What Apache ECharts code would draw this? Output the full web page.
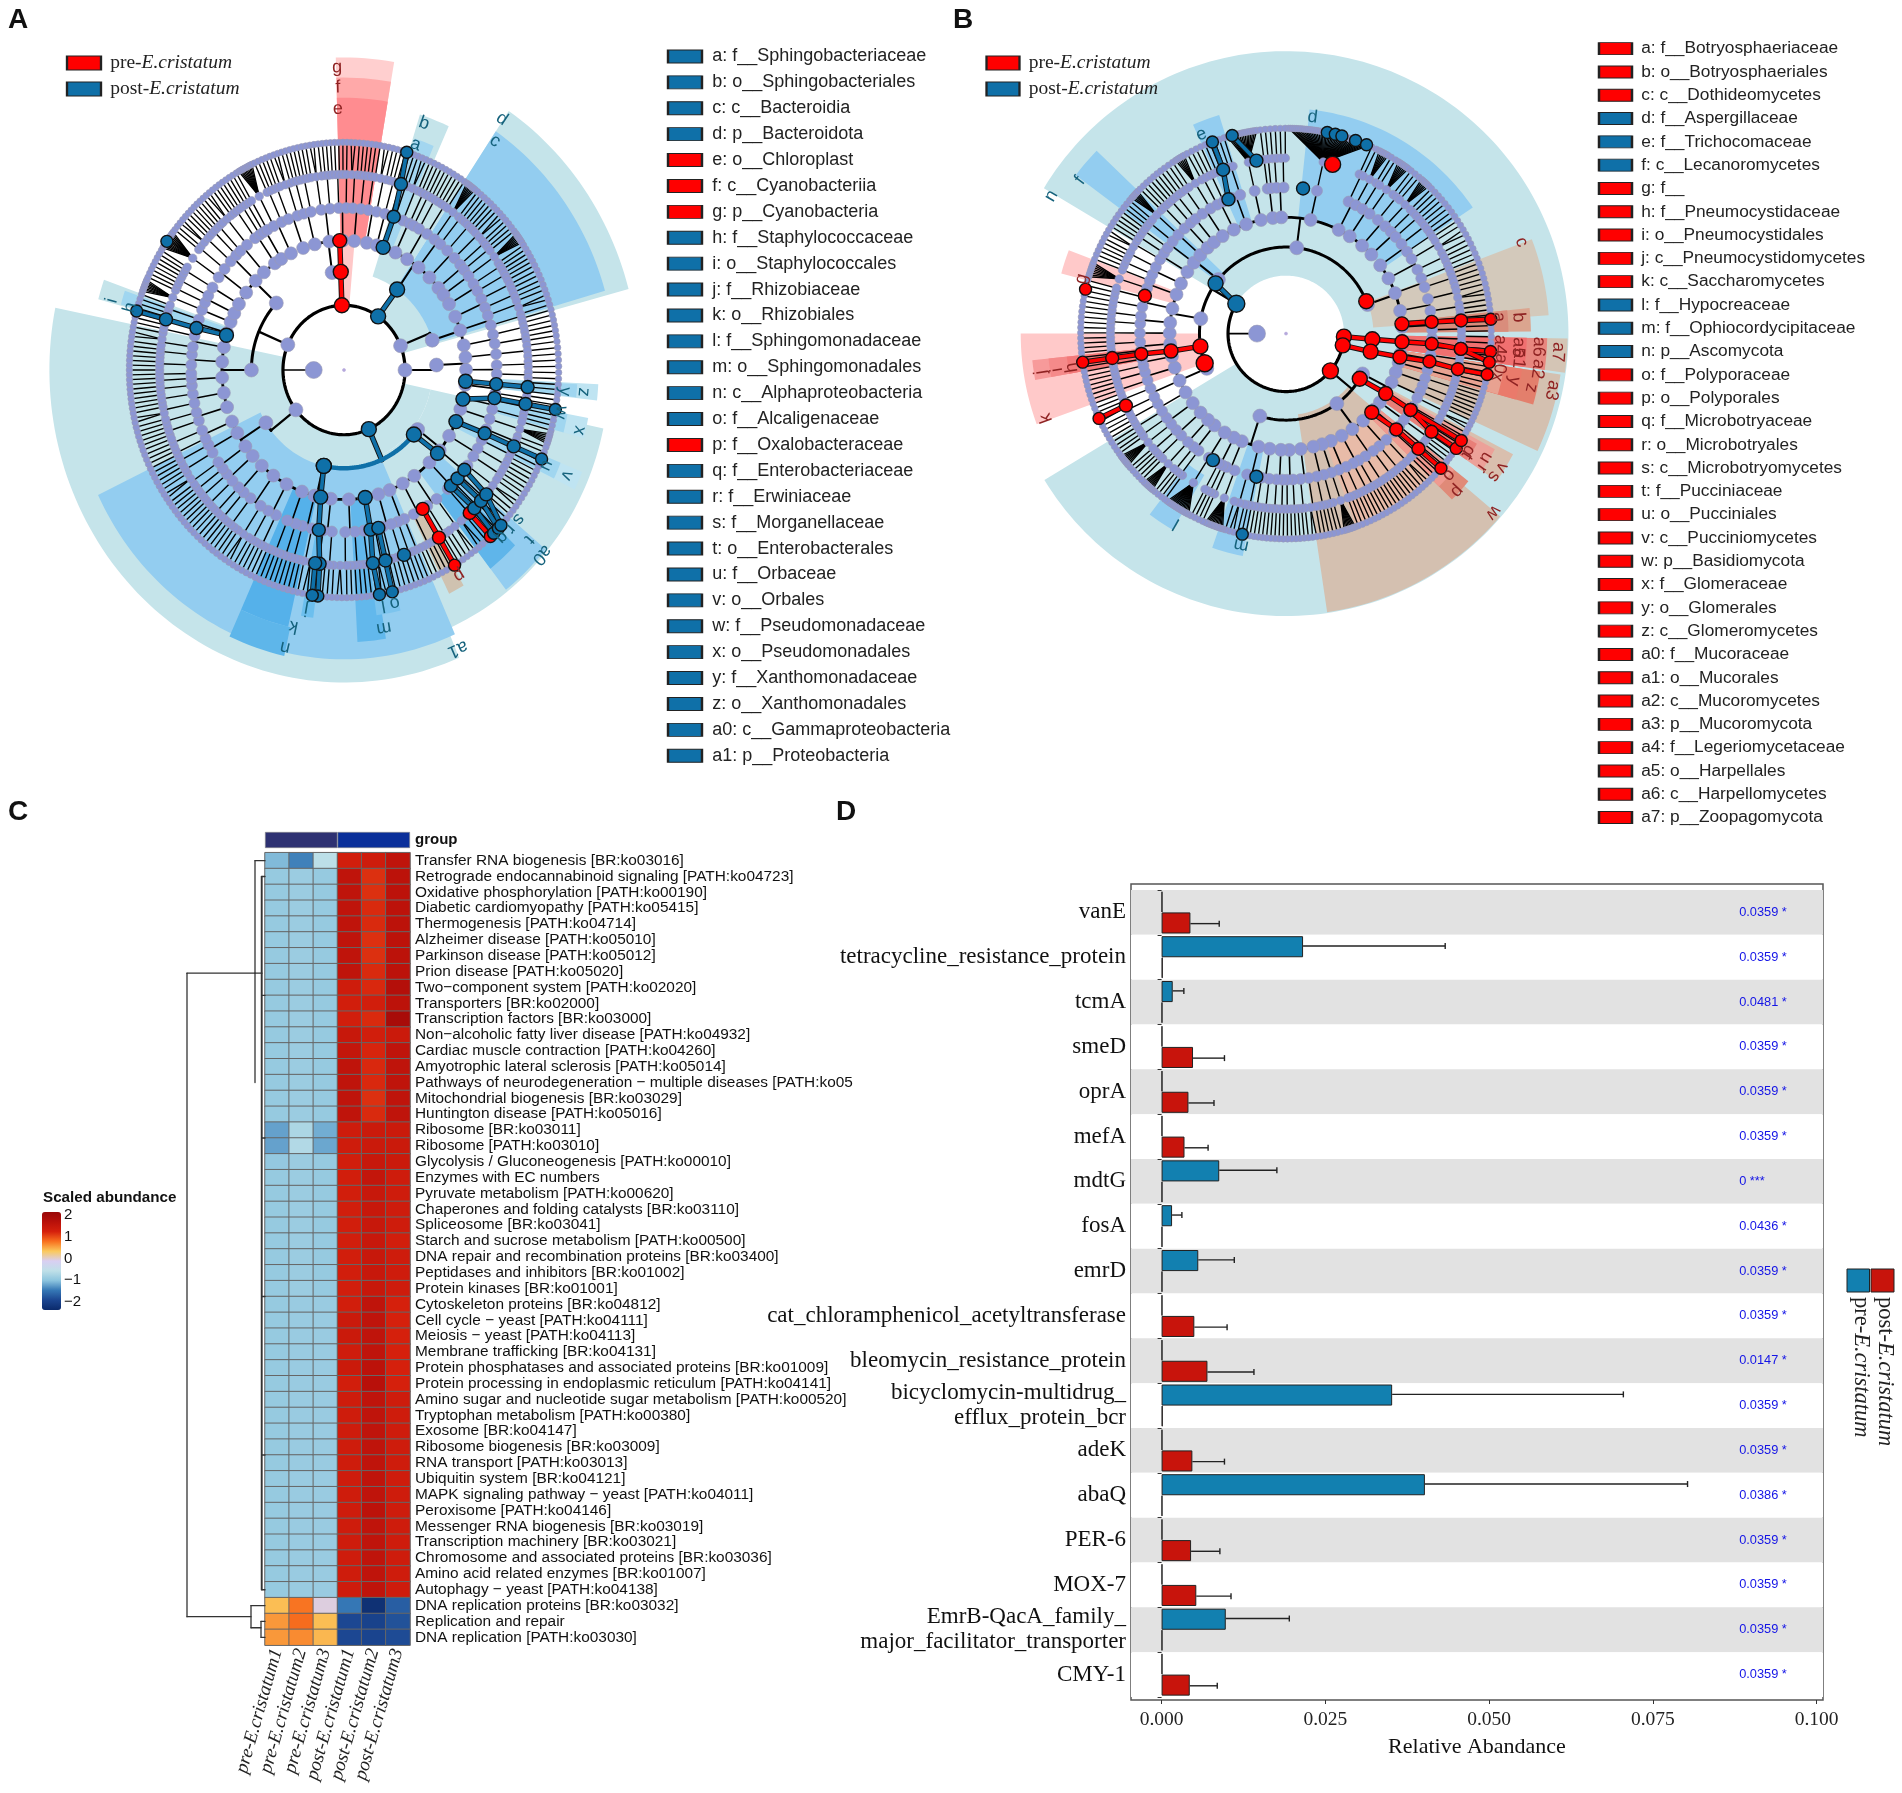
<!DOCTYPE html>
<html><head><meta charset="utf-8">
<style>html,body{margin:0;padding:0;background:#fff}#c{width:1902px;height:1793px}</style>
<script src="https://cdn.jsdelivr.net/npm/echarts@6/dist/echarts.min.js"></script>
</head><body><div id="c"></div>
<script>
// ---------- DATA ----------
const legendTermsA=["a: f__Sphingobacteriaceae","b: o__Sphingobacteriales","c: c__Bacteroidia","d: p__Bacteroidota","e: o__Chloroplast","f: c__Cyanobacteriia","g: p__Cyanobacteria","h: f__Staphylococcaceae","i: o__Staphylococcales","j: f__Rhizobiaceae","k: o__Rhizobiales","l: f__Sphingomonadaceae","m: o__Sphingomonadales","n: c__Alphaproteobacteria","o: f__Alcaligenaceae","p: f__Oxalobacteraceae","q: f__Enterobacteriaceae","r: f__Erwiniaceae","s: f__Morganellaceae","t: o__Enterobacterales","u: f__Orbaceae","v: o__Orbales","w: f__Pseudomonadaceae","x: o__Pseudomonadales","y: f__Xanthomonadaceae","z: o__Xanthomonadales","a0: c__Gammaproteobacteria","a1: p__Proteobacteria"];
const legendGroupA=[1,1,1,1,0,0,0,1,1,1,1,1,1,1,1,0,1,1,1,1,1,1,1,1,1,1,1,1];
const legendTermsB=["a: f__Botryosphaeriaceae","b: o__Botryosphaeriales","c: c__Dothideomycetes","d: f__Aspergillaceae","e: f__Trichocomaceae","f: c__Lecanoromycetes","g: f__","h: f__Pneumocystidaceae","i: o__Pneumocystidales","j: c__Pneumocystidomycetes","k: c__Saccharomycetes","l: f__Hypocreaceae","m: f__Ophiocordycipitaceae","n: p__Ascomycota","o: f__Polyporaceae","p: o__Polyporales","q: f__Microbotryaceae","r: o__Microbotryales","s: c__Microbotryomycetes","t: f__Pucciniaceae","u: o__Pucciniales","v: c__Pucciniomycetes","w: p__Basidiomycota","x: f__Glomeraceae","y: o__Glomerales","z: c__Glomeromycetes","a0: f__Mucoraceae","a1: o__Mucorales","a2: c__Mucoromycetes","a3: p__Mucoromycota","a4: f__Legeriomycetaceae","a5: o__Harpellales","a6: c__Harpellomycetes","a7: p__Zoopagomycota"];
const legendGroupB=[0,0,0,1,1,1,0,0,0,0,0,1,1,1,0,0,0,0,0,0,0,0,0,0,0,0,0,0,0,0,0,0,0,0];
const groupNames=["pre-","post-"];

const ringsA=[145,220,290,363,438,510];
const ringsB=[142,212,285,358,430,503];
const PALE='#c5e4ea',MID='#93cdf0',DEEP='#55b1ea';
// [fromAngle,toAngle,innerRadius,outerRadius,colour]
const sectorsA=[
 [157,281.5,145,700,PALE],[102,157,145,210,PALE],[102,157,210,630,PALE],[34,75,145,700,PALE],[18,34,220,505,PALE],
 [34,74,220,645,MID],[156,244.4,220,648,MID],
 [17.5,24.5,290,600,PALE],[18,23,290,545,'#a3d6f0'],
 [-1.6,9.8,290,700,'#ffcfcf'],[-1.6,9.8,290,655,'#ffa9a9'],[-1.6,9.8,290,610,'#ff8c90'],[-1,5,150,290,'#ffc8c8'],
 [192.5,204.5,590,656,'#5eb6ea'],[193,204.5,290,590,DEEP],[187.5,190.5,365,560,'#6cbfee'],
 [170.6,177,290,610,'#62b8ec'],[166,172,365,555,'#7cc4ee'],
 [130,142,290,625,MID],[134,142,363,565,'#5fb5ea'],[149.5,153.5,360,560,'#cfc2b0'],
 [93,96.5,360,605,'#bfe4f2'],[93.3,96.3,360,555,'#a0d6f0'],[100.5,105,360,590,'#bfe4f2'],[100.5,105,360,540,'#a0d6f0'],
 [112,116,290,610,'#bfe4f2'],[112,116,290,555,'#a0d6f0'],[285.2,289.5,290,605,PALE],[285.5,288.8,290,550,'#a0d6f0']
];
const sectorsB=[
 [301,598.8,142,692,PALE],[130.5,171.6,200,690,'#d4c0b0'],[98.5,115,285,680,'#d4c0b0'],[91,98,285,690,'#d4c5b5'],[69,86,214,645,'#d3c9bb'],
 [84,89.5,285,600,'#dba58f'],[84,89.5,285,545,'#d98d7c'],[91,98,285,640,'#e8877f'],[91,98,285,590,'#f07070'],
 [98.5,106,285,630,'#e37f6c'],[98.5,106,285,585,'#ea7a6b'],[98.5,106,285,540,'#e8a291'],
 [118,125,285,630,'#d9bfae'],[119,125,285,585,'#eca199'],[120,125,285,540,'#e87f78'],
 [129,135,285,575,'#e08a78'],[129,135,285,530,'#ef9a90'],[135,160,285,500,'#e8bba8'],
 [6,56,285,552,MID],[336,343,285,560,MID],[307,314,214,645,MID],
 [285,291,285,570,'#ffc9c9'],[250,270,214,650,'#ffc9c9'],[259.5,264,360,625,'#f79a9a'],[259.5,264,360,585,'#f58a8a'],[259.5,264,360,540,'#f47a7a'],
 [210,217,400,555,MID],[191,199,285,555,MID]
];
// Taxonomy: phylum {a:ring angle, classes:[[from,to,[order[family[species per genus]]]]]}
const phylaA=[
 {a:293,classes:[
  [250,290,[[[1,1,1],[1,1]],[[2,1],[1,1,1]],[[1,1],[1,1],[1]],[[1,1,1,1],[1,1]],[[1,2],[1,1,1]],[[1,1],[1,1,1]]]],
  [290,337,[[[8]],[[1,1],[1,1,1]],[[1,1,1]],[[12],[1,1]],[[2,1,1],[1,1]],[[1,1],[1,2,1]],[[1,1,1],[1]],[[1,1],[1]],[[10],[1,1]]]]]},
 {a:358,classes:[[337,368,[[[1,1,1],[2,1]],[[1,1],[1,1,1]],[[1,2,1],[1,1]],[[1,1,1,1],[1]],[[2,1],[1,1,1]]]]]},
 {a:34,classes:[[8,62,[[[1,1],[2,1]],[[1,1,1]],[[1],[1,1]],[[2,1],[1,1],[1]],[[1,1,1],[1,1,1]],[[7],[1,1]],[[1,1,1,1],[1,2]],[[1,1],[1,1]],[[7]],[[1,1,1],[1,1]]]]]},
 {a:68,classes:[[62,82,[[[1,1,1],[1,1]],[[1,2],[1,1]],[[1,1,1],[1,1]]]]]},
 {a:90,classes:[[82,93,[[[1,1,1]],[[1,1],[1,1]]]]]},
 {a:156,classes:[
  [93,160,[[[1,1,1],[1,1]],[[1,1],[1,1,1]],[[6]],[[1,1,2],[1,1]],[[1,1,1],[1,1]],[[1,2,1],[1,1,1]],[[1,1],[1,1,1]],[[2,2,1],[1,1]],[[1,1],[1,1,1]],[[1,1,1],[1]]]],
  [160,225,[[[1,1,1],[1,1]],[[1,2],[1,1,1]],[[1,1],[1,1,2]],[[1,1,1],[1,1]],[[2,1,1],[1,1]],[[1,1],[1,1,1]],[[1,1,1,1],[1]],[[1,2,1],[1,1,1]],[[1,1],[1,1]]]]]},
 {a:232,classes:[[225,250,[[[1,1,1],[1,1]],[[1,1],[1,2]],[[1,1,1],[1,1]],[[1,1],[1,1,1]]]]]}
];
const phylaB=[
 {a:93,classes:[[90,97,[[[1,1],[1,1]]]]]},
 {a:101.7,classes:[[97,106,[[[1,1],[1,1]],[[1,1]]]]]},
 {a:130,classes:[
  [106,128,[[[1,1,1],[1,1]],[[1,1],[1,2]],[[1,1,1],[1,1]],[[1,1,1]]]],
  [128,160,[[[1,1],[1,1,1]],[[1,2,1],[1,1]],[[1,1,1],[1,1,1]],[[1,1],[1,1]],[[1,1,1],[1,1]]]],
  [160,236,[[[8]],[[1,1],[1,1,1]],[[1,2],[1,1]],[[1,1,1],[1]],[[1,1],[1,1]],[[1,1,1],[1,1]],[[1,1],[1,2,1]],[[12],[1]],[[1,1],[1]],[[16]],[[1,1],[1,1]],[[8]],[[1,1,1],[1,1]],[[8],[1,1]]]]]},
 {a:301,classes:[
  [236,256,[[[1,1,1],[1,1]],[[1,2],[1,1]],[[1,1,1],[1,1]]]],
  [256,268,[[[1,1],[1,1]],[[1,1,1],[1,1]]]],
  [268,292,[[[1,1,1]],[[1,1],[1,1]],[[1,1,1],[1,1]],[[8],[1]]]],
  [292,323,[[[1,1,1],[1,1]],[[2,1],[1,1]],[[1,1],[1,1,1]],[[6]],[[1,1,1],[1,1]],[[1,1]]]],
  [323,410,[[[1,1,1],[6]],[[1,1],[1,1]],[[1,1,1],[1,1]],[[16]],[[1],[1]],[[1,1],[1,1]],[[42]],[[1,1],[6]],[[1,1],[7]],[[1,1,1],[6]],[[1,1],[1,1]]]],
  [410,450,[[[1,1,1],[1,1]],[[1,2],[1,1,1]],[[1,1],[1,1,1]],[[1,1,2],[1,1]],[[1,1,1],[1,1]]]]]}
];
// chains of differential taxa: [ringIndex,angle,(size)]
const chainsA=[
 ['r',[[0,358],[1,358],[2,358]]],['r',[[3,149],[4,149],[5,149]]],['r',[[4,137],[5,137]]],
 ['b',[[3,135.6],[4,135],[5,135.8]]],['b',[[3,132],[4,132],[5,134]]],['b',[[3,128],[4,129.5],[5,133]]],
 ['b',[[0,34],[1,35]]],['b',[[2,18.7],[3,19],[4,18],[5,17]]],['b',[[2,95],[3,95],[4,95]]],
 ['b',[[2,103],[3,100],[4,100],[5,100]]],['b',[[2,113.5],[3,113],[4,113],[5,113]]],
 ['b',[[0,156],[1,156,0]]],['b',[[1,192.6],[1,156,0],[1,131],[2,130]]],
 ['b',[[1,192.6],[2,191],[3,189.5],[4,187.6],[5,187]]],['b',[[4,189],[5,188.5]]],
 ['b',[[2,170],[3,170],[4,171],[5,170.5]]],['b',[[3,167],[4,167],[5,167]]],['b',[[4,161]]],
 ['b',[[2,285.6],[3,285],[4,285],[5,285]]],['b',[[5,304.4]]]
];
const chainsB=[
 ['r',[[1,68]]],['r',[[2,85.2],[3,85.4],[4,85.7],[5,86]]],
 ['r',[[0,93],[1,93.7],[2,94],[3,94],[4,95],[5,95]]],['r',[[4,95],[5,98]]],
 ['r',[[0,101.7],[1,102],[2,101.6],[3,101],[4,101.7],[5,101.5]]],
 ['r',[[0,130,16]]],['r',[[1,121.5],[2,121],[3,121.5],[4,124],[5,124]]],['r',[[3,121.5],[5,121.4]]],
 ['r',[[2,132.5],[3,131],[4,131],[5,131]]],
 ['r',[[1,261.5],[2,261.4],[3,262],[4,262],[5,262]]],['r',[[1,250,17]]],['r',[[4,245.8],[5,245.6]]],
 ['r',[[3,285]]],['r',[[5,282.5]]],['r',[[4,15.4,16]]],
 ['b',[[0,301,17],[1,305.5]]],['b',[[3,6.7]]],['b',[[3,336.8],[4,339],[5,339]]],['b',[[4,350.3],[5,344.8]]],
 ['b',[[5,11.6]]],['b',[[5,13.9]]],['b',[[5,15.8]]],['b',[[5,19.8]]],['b',[[5,23.1]]],
 ['b',[[3,210]]],['b',[[3,191.7]]],['b',[[5,192.3]]]
];
// [text,radius,angle,group]
const lettersA=[["a",533,18.6,1],["b",584,19,1],["c",626,35,1],["d",676,33.7,1],["e",585,358.6,0],["f",633,358.7,0],["g",678,358.6,0],["h",527,285.4,1],["i",573,285.7,1],["j",543,189.5,1],["k",587,191.8,1],["l",535,170,1],["m",586,170.7,1],["n",637,192.7,1],["o",536,167,1],["p",535,149.3,0],["q",530,135,1],["r",532,132,1],["s",533,128.9,1],["t",581,130.8,1],["u",527,114,1],["v",580,114,1],["w",524,100.4,1],["x",576,103.6,1],["y",527,95.2,1],["z",572,95,1],["a0",627,131.4,1],["a1",681,156.6,1]];
const lettersB=[["a",523,85.6,0],["b",571,86,0],["c",619,68.8,0],["d",534,7,1],["e",530,337,1],["f",629,306.6,1],["g",519,285,0],["h",531,261,0],["i",568,261,0],["j",608,261,0],["k",623,250.6,0],["l",538,210,1],["m",530,192,1],["n",667,300.4,1],["o",529,131,0],["p",570,132.7,0],["q",531,122.7,0],["r",582,124.6,0],["s",618,124.5,0],["t",534,124,0],["u",577,121.8,0],["v",622,121.8,0],["w",671,130.8,0],["x",528,101.6,0],["y",571,101.8,0],["z",616,102.5,0],["a0",530,98,0],["a1",574,96.1,0],["a2",623,98,0],["a3",667,102,0],["a4",525,93,0],["a5",570,93.4,0],["a6",620,93,0],["a7",668,93.9,0]];

const heatRows=["Transfer RNA biogenesis [BR:ko03016]","Retrograde endocannabinoid signaling [PATH:ko04723]","Oxidative phosphorylation [PATH:ko00190]","Diabetic cardiomyopathy [PATH:ko05415]","Thermogenesis [PATH:ko04714]","Alzheimer disease [PATH:ko05010]","Parkinson disease [PATH:ko05012]","Prion disease [PATH:ko05020]","Two−component system [PATH:ko02020]","Transporters [BR:ko02000]","Transcription factors [BR:ko03000]","Non−alcoholic fatty liver disease [PATH:ko04932]","Cardiac muscle contraction [PATH:ko04260]","Amyotrophic lateral sclerosis [PATH:ko05014]","Pathways of neurodegeneration − multiple diseases [PATH:ko05","Mitochondrial biogenesis [BR:ko03029]","Huntington disease [PATH:ko05016]","Ribosome [BR:ko03011]","Ribosome [PATH:ko03010]","Glycolysis / Gluconeogenesis [PATH:ko00010]","Enzymes with EC numbers","Pyruvate metabolism [PATH:ko00620]","Chaperones and folding catalysts [BR:ko03110]","Spliceosome [BR:ko03041]","Starch and sucrose metabolism [PATH:ko00500]","DNA repair and recombination proteins [BR:ko03400]","Peptidases and inhibitors [BR:ko01002]","Protein kinases [BR:ko01001]","Cytoskeleton proteins [BR:ko04812]","Cell cycle − yeast [PATH:ko04111]","Meiosis − yeast [PATH:ko04113]","Membrane trafficking [BR:ko04131]","Protein phosphatases and associated proteins [BR:ko01009]","Protein processing in endoplasmic reticulum [PATH:ko04141]","Amino sugar and nucleotide sugar metabolism [PATH:ko00520]","Tryptophan metabolism [PATH:ko00380]","Exosome [BR:ko04147]","Ribosome biogenesis [BR:ko03009]","RNA transport [PATH:ko03013]","Ubiquitin system [BR:ko04121]","MAPK signaling pathway − yeast [PATH:ko04011]","Peroxisome [PATH:ko04146]","Messenger RNA biogenesis [BR:ko03019]","Transcription machinery [BR:ko03021]","Chromosome and associated proteins [BR:ko03036]","Amino acid related enzymes [BR:ko01007]","Autophagy − yeast [PATH:ko04138]","DNA replication proteins [BR:ko03032]","Replication and repair","DNA replication [PATH:ko03030]"];
const heatCols=["pre-E.cristatum1","pre-E.cristatum2","pre-E.cristatum3","post-E.cristatum1","post-E.cristatum2","post-E.cristatum3"];
const pre1=[-.85,-.72,-.72,-.72,-.72,-.72,-.72,-.72,-.72,-.72,-.72,-.72,-.72,-.72,-.72,-.72,-.72,-.98,-.98,-.74,-.72,-.72,-.72,-.72,-.72,-.72,-.72,-.72,-.72,-.72,-.72,-.72,-.72,-.72,-.72,-.72,-.72,-.72,-.72,-.72,-.72,-.72,-.72,-.72,-.72,-.72,-.72,.45,.62,.62];
const pre2=[-1.15,-.68,-.68,-.68,-.68,-.68,-.68,-.68,-.68,-.68,-.68,-.68,-.68,-.68,-.68,-.68,-.68,-.55,-.5,-.68,-.68,-.68,-.68,-.68,-.68,-.68,-.68,-.68,-.7,-.7,-.7,-.7,-.7,-.7,-.7,-.7,-.7,-.7,-.7,-.7,-.7,-.7,-.7,-.7,-.7,-.7,-.7,.78,.82,.68];
const pre3=[-.42,-.72,-.72,-.72,-.72,-.72,-.72,-.72,-.72,-.72,-.72,-.72,-.72,-.72,-.72,-.72,-.72,-.92,-.95,-.72,-.72,-.72,-.72,-.72,-.72,-.72,-.72,-.72,-.7,-.7,-.7,-.7,-.7,-.7,-.7,-.7,-.7,-.7,-.7,-.7,-.7,-.7,-.7,-.7,-.7,-.7,-.7,.05,.45,.48];
const post1=[1.25,1.5,1.5,1.5,1.5,1.5,1.5,1.5,1.3,1.25,1.25,1.4,1.45,1.5,1.5,1.5,1.5,1.3,1.3,1.25,1.25,1.25,1.25,1.25,1.25,1.25,1.25,1.25,1.25,1.35,1.35,1.3,1.35,1.25,1.3,1.3,1.3,1.3,1.3,1.3,1.3,1.3,1.3,1.3,1.3,1.3,1.3,-1.2,-1.58,-1.58];
const post2=[1.3,1.12,1.12,1.15,1.15,1.12,1.12,1.15,1.16,1.25,1.15,1.25,1.18,1.16,1.16,1.12,1.15,1.35,1.35,1.4,1.45,1.4,1.4,1.4,1.4,1.4,1.4,1.4,1.5,1.5,1.5,1.5,1.55,1.6,1.5,1.5,1.5,1.5,1.5,1.5,1.5,1.55,1.5,1.5,1.5,1.5,1.5,-1.9,-1.65,-1.62];
const post3=[1.5,1.55,1.55,1.55,1.55,1.55,1.55,1.55,1.65,1.55,1.8,1.35,1.5,1.5,1.5,1.5,1.5,1.35,1.35,1.35,1.3,1.3,1.3,1.3,1.25,1.3,1.3,1.3,1.2,1.2,1.2,1.2,1.2,1.2,1.3,1.3,1.3,1.3,1.3,1.3,1.3,1.3,1.3,1.3,1.3,1.3,1.3,-1.4,-1.5,-1.55];
// dendrogram segments [height0,row0,height1,row1]
const dendroSegments=[[78,7.6,78,48.2],[78,7.6,10,7.6],[78,48.2,14,48.2],[10,.5,10,14.5],[10,.5,0,.5],[10,7.6,3,7.6],[3,1.5,3,46.5],[3.6,1.5,3.6,46.5],[3,1.5,0,1.5],[3,46.5,0,46.5],[3,9,0,9],[3,18,0,18],[3,28,0,28],[3,38,0,38],[14,47.5,14,48.9],[14,47.5,0,47.5],[14,48.9,4,48.9],[4,48.5,4,49.5],[4,48.5,0,48.5],[4,49.5,0,49.5]];

const genes=["vanE","tetracycline_resistance_protein","tcmA","smeD","oprA","mefA","mdtG","fosA","emrD","cat_chloramphenicol_acetyltransferase","bleomycin_resistance_protein","bicyclomycin-multidrug_\nefflux_protein_bcr","adeK","abaQ","PER-6","MOX-7","EmrB-QacA_family_\nmajor_facilitator_transporter","CMY-1"];
const postMean=[.00012,.0216,.0017,.00012,.00012,.00012,.0088,.0016,.0056,.00012,.00012,.0352,.00012,.0402,.00012,.00012,.0098,.00012];
const postErr =[0,.0433,.0034,0,0,0,.0176,.0031,.0111,0,0,.0705,0,.0803,0,0,.0195,0];
const preMean =[.0044,.00018,.00012,.0048,.0041,.0035,.00012,.00012,.00012,.005,.007,.00018,.0047,.00012,.0045,.0053,.00012,.0043];
const preErr  =[.0088,0,0,.0096,.008,.0071,0,0,0,.01,.0141,0,.0096,0,.0089,.0106,0,.0085];
const pValues=["0.0359 *","0.0359 *","0.0481 *","0.0359 *","0.0359 *","0.0359 *","0 ***","0.0436 *","0.0359 *","0.0359 *","0.0147 *","0.0359 *","0.0359 *","0.0386 *","0.0359 *","0.0359 *","0.0359 *","0.0359 *"];
const xTicks=[0,.025,.05,.075,.1];

// ---------- BUILD ----------
const grid=[],xAxis=[],yAxis=[],series=[];
const SANS='"Liberation Sans",Arial,sans-serif',SERIF='"Liberation Serif",serif';
function addGrid(g,x,y){grid.push(Object.assign({containLabel:false},g));const i=grid.length-1;
 xAxis.push(Object.assign({gridIndex:i},x));yAxis.push(Object.assign({gridIndex:i},y));return i;}
const hidden=(a,b)=>({type:'value',show:false,min:a,max:b});
const pt=(r,a)=>{const t=a*Math.PI/180;return [r*Math.sin(t),r*Math.cos(t)];};
function arcPts(r,a0,a1){const p=[];const n=Math.max(1,Math.ceil(Math.abs(a1-a0)/1.5));for(let i=0;i<=n;i++)p.push(pt(r,a0+(a1-a0)*i/n));return p;}
const NODE='#8c96d4',REDC='#ff0000',BLUEC='#0f70a8';
const sizes=[14,14,13,11,8.5,6.5],bioSizes=[15,15,14,13,13,12];
const arcW=[3.2,3,2.8,2.2,1.4,1.2];

function layout(phyla,R,rootAngleR,wholeCircle){
 const edges=[],nodes=[];
 const N=(ring,a)=>nodes.push({v:pt(R[ring],a),s:sizes[ring]});
 const addArc=(ring,a,b)=>{if(b>a)edges.push({p:arcPts(R[ring],a,b),w:arcW[ring]});};
 const addSpoke=(r0,r1,a,w)=>edges.push({p:[pt(r0,a),pt(r1,a)],w});
 phyla.forEach(ph=>{
  const clsA=[];
  ph.classes.forEach(c=>{
   const w=g=>g>=6?g*.4:g;let tot=0;
   c[2].forEach(o=>o.forEach(f=>f.forEach(g=>tot+=w(g))));
   const unit=(c[1]-c[0])/tot;let cur=c[0];const ordA=[];
   c[2].forEach(o=>{const famA=[];
    o.forEach(f=>{const genA=[];
     f.forEach(g=>{const spA=[],step=unit*w(g)/g;
      for(let i=0;i<g;i++)spA.push(cur+step*(i+.5));cur+=unit*w(g);
      const ga=(spA[0]+spA[g-1])/2;genA.push(ga);N(4,ga);
      spA.forEach(sa=>{edges.push({p:[pt(R[4],ga),pt(R[5],sa)],w:1.35});N(5,sa);});
     });
     const fa=(genA[0]+genA[genA.length-1])/2;famA.push(fa);N(3,fa);
     addArc(4,genA[0],genA[genA.length-1]);addSpoke(R[3],R[4],fa,1.4);
    });
    const oa=(famA[0]+famA[famA.length-1])/2;ordA.push(oa);N(2,oa);
    addArc(3,famA[0],famA[famA.length-1]);addSpoke(R[2],R[3],oa,1.6);
   });
   const ca=(ordA[0]+ordA[ordA.length-1])/2;clsA.push(ca);N(1,ca);
   addArc(2,ordA[0],ordA[ordA.length-1]);addSpoke(R[1],R[2],ca,2);
  });
  N(0,ph.a);
  let lo=Math.min(clsA[0],ph.a),hi=Math.max(clsA[clsA.length-1],ph.a);
  addArc(1,lo,hi);addSpoke(R[0],R[1],ph.a,2.2);
 });
 if(wholeCircle===true)addArc(0,0,360);else addArc(0,wholeCircle[0],wholeCircle[1]);
 addSpoke(rootAngleR,R[0],270,1.6);
 return {edges,nodes};
}

function polyline(list,z,gi){
 series.push({type:'custom',xAxisIndex:gi,yAxisIndex:gi,z,silent:true,animation:false,clip:false,
  data:list.map(()=>[0,0]),
  renderItem:(p,api)=>{const e=list[p.dataIndex];
   return {type:'polyline',shape:{points:e.p.map(q=>api.coord(q))},style:{stroke:e.c||'#000',lineWidth:e.w,fill:null,lineCap:'round',lineJoin:'round'}};}});
}
function panel(gi,sectors,phyla,R,chains,letters,rootR,circle){
 series.push({type:'custom',xAxisIndex:gi,yAxisIndex:gi,z:1,silent:true,animation:false,clip:false,
  data:sectors.map(s=>s.slice(0,4)),
  renderItem:(p,api)=>{const s=sectors[p.dataIndex];
   const pts=arcPts(s[3],s[0],s[1]).concat(arcPts(s[2],s[1],s[0])).map(q=>api.coord(q));
   return {type:'polygon',shape:{points:pts},style:{fill:s[4],stroke:null}};}});
 const t=layout(phyla,R,rootR,circle);
 polyline(t.edges,2,gi);
 const nodeItem=n=>({value:n.v,symbolSize:n.s,itemStyle:{opacity:1,color:n.c||NODE,borderColor:n.b||'#9a9ab4',borderWidth:n.bw||.6}});
 const rootNodes=[{v:pt(rootR,270),s:17},{v:[0,0],s:3,c:'#b5a8dc',b:'#b5a8dc'}];
 series.push({type:'scatter',xAxisIndex:gi,yAxisIndex:gi,z:3,silent:true,animation:false,clip:false,data:t.nodes.concat(rootNodes).map(nodeItem)});
 const under=[],over=[],bio=[];
 chains.forEach(([g,ch])=>{const col=g==='r'?REDC:BLUEC;
  ch.forEach((q,i)=>{
   if(q[2]!==0)bio.push({v:pt(R[q[0]],q[1]),s:q[2]||bioSizes[q[0]],c:col,b:'#111',bw:1.4});
   if(i>0){const pr=ch[i-1];
    const pts=pr[0]===q[0]?arcPts(R[q[0]],pr[1],q[1]):[pt(R[pr[0]],pr[1]),pt(R[q[0]],q[1])];
    under.push({p:pts,w:pr[0]===q[0]?0:5.5,c:'#111'});over.push({p:pts,w:pr[0]===q[0]?4.5:3.6,c:col});
   }
  });
 });
 polyline(under.filter(e=>e.w>0),4,gi);polyline(over,5,gi);
 series.push({type:'scatter',xAxisIndex:gi,yAxisIndex:gi,z:6,silent:true,animation:false,clip:false,data:bio.map(nodeItem)});
 series.push({type:'scatter',xAxisIndex:gi,yAxisIndex:gi,z:7,silent:true,animation:false,clip:false,symbolSize:1,itemStyle:{color:'transparent',opacity:1},
  data:letters.map(l=>({value:pt(l[1],l[2]),label:{show:true,position:'inside',formatter:l[0],rotate:-l[2],color:l[3]?'#15627c':'#8f2323',fontSize:18,fontFamily:SANS}}))});
}
// cladogram A is drawn slightly taller than wide, B is round
const gA=addGrid({left:344-760/2.376,top:370-760/2.24,width:1520/2.376,height:1520/2.24},hidden(-760,760),hidden(-760,760));
panel(gA,sectorsA,phylaA,ringsA,chainsA,lettersA,72,true);
const gB=addGrid({left:1286-760/2.45,top:333.6-760/2.45,width:1520/2.45,height:1520/2.45},hidden(-760,760),hidden(-760,760));
panel(gB,sectorsB,phylaB,ringsB,chainsB,lettersB,71,[93,301]);

// legends
function legendList(left,top,step,terms,groups,w,h,labelGap,fontSize,rich){
 const gi=addGrid({left,top,width:10,height:step*terms.length},hidden(0,1),{type:'category',show:false,inverse:true,data:terms.map((_,i)=>i)});
 series.push({type:'scatter',xAxisIndex:gi,yAxisIndex:gi,z:8,silent:true,animation:false,clip:false,symbol:'rect',symbolSize:[w,h],
  data:terms.map((t,i)=>({value:[0,i],itemStyle:{opacity:1,color:groups[i]?BLUEC:REDC,borderColor:'#222',borderWidth:1.5},
   label:{show:true,position:'right',distance:labelGap,formatter:rich?('{a|'+t.split('|')[0]+'}{b|'+t.split('|')[1]+'}'):t,color:'#222',fontSize,fontFamily:SANS,
    rich:rich?{a:{fontFamily:SERIF,fontSize:fontSize,color:'#222'},b:{fontFamily:SERIF,fontStyle:'italic',fontSize:fontSize,color:'#222'}}:undefined}}))});
}
legendList(685,43.5,25.9,legendTermsA,legendGroupA,34,13,9,18);
legendList(1615.5,37,23.3,legendTermsB,legendGroupB,33,12,8,17.3);
const topTerms=groupNames.map(n=>n+'|E.cristatum');
legendList(84,50,26,topTerms,[0,1],34,14,8,19.5,true);
legendList(1003,50,26,topTerms,[0,1],33,14,8,19.5,true);

// C: group strip
const gStrip=addGrid({left:265,top:832,width:145,height:16},hidden(0,6),{type:'category',position:'right',data:['group'],axisLine:{show:false},axisTick:{show:false},
 axisLabel:{fontFamily:SANS,fontWeight:'bold',fontSize:15,margin:5,color:'#111'}});
[['#2e3172'],['#0a2f9a']].forEach(c=>series.push({type:'bar',xAxisIndex:gStrip,yAxisIndex:gStrip,stack:'g',barWidth:'100%',silent:true,animation:false,data:[3],itemStyle:{color:c[0],borderColor:'#8a8a8a',borderWidth:.6}}));
// C: heatmap
const gHeat=addGrid({left:265,top:852.7,width:145,height:792.5},
 {type:'category',data:heatCols,axisLine:{show:false},axisTick:{show:false},axisLabel:{interval:0,rotate:74,margin:4,fontFamily:SERIF,fontStyle:'italic',fontSize:19,color:'#222'}},
 {type:'category',data:heatRows,inverse:true,position:'right',axisLine:{show:false},axisTick:{show:false},axisLabel:{interval:0,margin:5,fontFamily:SANS,fontSize:15.4,color:'#111'}});
const cols=[pre1,pre2,pre3,post1,post2,post3];const heatData=[];
cols.forEach((c,x)=>c.forEach((v,y)=>heatData.push([x,y,v])));
series.push({type:'heatmap',xAxisIndex:gHeat,yAxisIndex:gHeat,data:heatData,silent:true,animation:false,itemStyle:{borderColor:'#666',borderWidth:1},emphasis:{disabled:true}});
const heatSeriesIndex=series.length-1;
// C: dendrogram
const gDen=addGrid({left:187,top:852.7,width:78,height:792.5},{type:'value',show:false,min:0,max:78,inverse:true},{type:'value',show:false,min:0,max:50,inverse:true});
polyline(dendroSegments.map(s=>({p:[[s[0],s[1]],[s[2],s[3]]],w:1.3,c:'#333'})),3,gDen);
// C: colour bar tick axis
const gBar=addGrid({left:42,top:1215,width:19,height:87},hidden(0,1),{type:'value',position:'right',min:-2,max:2,interval:1,z:6,splitLine:{show:false},axisLine:{show:false},
 axisTick:{show:true,inside:true,length:5,lineStyle:{color:'#fff'}},axisLabel:{margin:3,fontFamily:SANS,fontSize:15,color:'#111',formatter:v=>String(v).replace('-','−')}});

// D
const xMin=-.00467,xMax=.10098;
const gFrame=addGrid({left:1131,top:884,width:692,height:816,show:true,borderColor:'#555',borderWidth:1.5,backgroundColor:'transparent'},
 {type:'value',min:xMin,max:xMax,name:'Relative Abandance',nameLocation:'middle',nameGap:36,nameTextStyle:{fontFamily:SERIF,fontSize:22,color:'#111'},
  splitLine:{show:false},axisLine:{show:false},axisTick:{show:true,length:4,customValues:xTicks,lineStyle:{color:'#333'}},
  axisLabel:{customValues:xTicks,margin:10,fontFamily:SERIF,fontSize:19.5,color:'#222',formatter:v=>v.toFixed(3)}},hidden(0,1));
const gD=addGrid({left:1131,top:890,width:692,height:807},hidden(xMin,xMax),
 {type:'category',data:genes,inverse:true,axisLine:{show:false},axisTick:{show:true,length:4,alignWithLabel:false,lineStyle:{color:'#333'}},
  splitArea:{show:true,areaStyle:{color:['#e2e2e2','#ffffff']}},
  axisLabel:{interval:0,margin:5,fontFamily:SERIF,fontSize:23,lineHeight:25,color:'#111'}});
const barBlue='#1280b0',barRed='#c8140c';
series.push({type:'bar',name:'post',xAxisIndex:gD,yAxisIndex:gD,z:3,data:postMean,barGap:'0%',barCategoryGap:'6%',silent:true,animation:false,itemStyle:{color:barBlue,borderColor:'#222',borderWidth:1}});
series.push({type:'bar',name:'pre',xAxisIndex:gD,yAxisIndex:gD,z:3,data:preMean,silent:true,animation:false,itemStyle:{color:barRed,borderColor:'#222',borderWidth:1}});
const errData=[];
postErr.forEach((e,i)=>{if(e)errData.push([postMean[i],e,i,-1]);});
preErr.forEach((e,i)=>{if(e)errData.push([preMean[i],e,i,1]);});
series.push({type:'custom',xAxisIndex:gD,yAxisIndex:gD,z:2,silent:true,animation:false,data:errData,encode:{x:[0,1],y:2},
 renderItem:(p,api)=>{const a=api.coord([api.value(0),api.value(2)]),b=api.coord([api.value(1),api.value(2)]);
  const band=api.size([0,1])[1],y=a[1]+api.value(3)*band/4;
  return {type:'group',children:[
   {type:'line',shape:{x1:a[0],y1:y,x2:b[0],y2:y},style:{stroke:'#222',lineWidth:1.4}},
   {type:'line',shape:{x1:b[0],y1:y-3,x2:b[0],y2:y+3},style:{stroke:'#222',lineWidth:1.4}}]};}});
series.push({type:'scatter',xAxisIndex:gD,yAxisIndex:gD,z:4,silent:true,animation:false,symbolSize:1,itemStyle:{color:'transparent',opacity:1},
 data:pValues.map((t,i)=>({value:[.0881,i],label:{show:true,position:'right',distance:0,formatter:t,color:'#1414e6',fontFamily:SANS,fontSize:12.8}}))});

const letter=(t,x,y)=>({type:'text',x,y,style:{text:t,fontFamily:SANS,fontWeight:'bold',fontSize:28,fill:'#111'},z:20});
const rotLabel=(a,b,x,y)=>({type:'text',x,y,rotation:-Math.PI/2,z:20,style:{text:'{a|'+a+'}{b|'+b+'}',rich:{a:{fontFamily:SERIF,fontSize:22.5,fill:'#222'},b:{fontFamily:SERIF,fontStyle:'italic',fontSize:22.5,fill:'#222'}}}});
const graphic=[letter('A',8,6),letter('B',953,6),letter('C',8,798),letter('D',836,798),
 {type:'text',x:43,y:1190,z:20,style:{text:'Scaled abundance',fontFamily:SANS,fontWeight:'bold',fontSize:15.2,fill:'#111'}},
 {type:'rect',shape:{x:1847,y:1269,width:22.5,height:23},z:20,style:{fill:barBlue,stroke:'#222',lineWidth:1}},
 {type:'rect',shape:{x:1871,y:1269,width:23,height:23},z:20,style:{fill:barRed,stroke:'#222',lineWidth:1}},
 rotLabel('post-','E.cristatum',1896,1297),rotLabel('pre-','E.cristatum',1872,1297)];

const chart=echarts.init(document.getElementById('c'),null,{renderer:'canvas',width:1902,height:1793});
chart.setOption({animation:false,backgroundColor:'#fff',tooltip:{show:false},grid,xAxis,yAxis,series,graphic,
 visualMap:[{type:'continuous',min:-2,max:2,seriesIndex:heatSeriesIndex,left:27,top:1197,itemWidth:19,itemHeight:98,calculable:false,hoverLink:false,text:null,showLabel:false,
  inRange:{color:['#0b2a6b','#1b4590','#3577b5','#8cc4de','#bfe0e8','#d9cff2','#fbc95c','#f8701f','#d5200c','#b8100a','#980808']}}]});
</script></body></html>
